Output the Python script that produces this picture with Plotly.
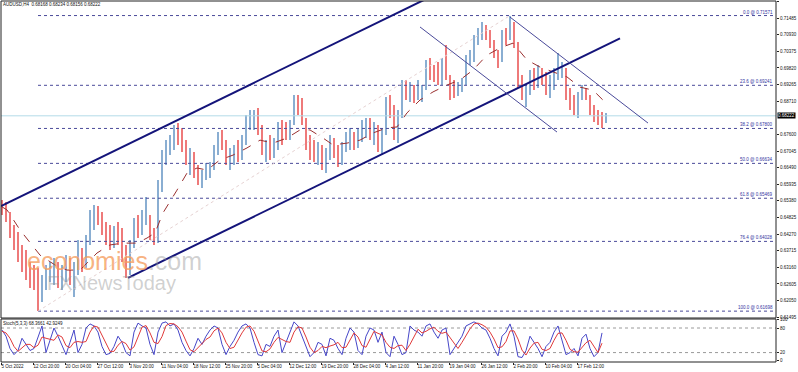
import plotly.graph_objects as go
import numpy as np

# ---------------- data ----------------
# H4 bar index (one unit per bar, grouped 4 bars per sample)
bar_index = [2 + 4 * i for i in range(152)]
highs = [0.6541,0.6534,0.6501,0.6458,0.6434,0.6391,0.6374,0.6334,0.6324,0.6314,
         0.6291,0.6324,0.6334,0.6347,0.6334,0.6324,0.6357,0.6347,0.6334,0.6407,
         0.6381,0.6424,0.6508,0.6524,0.6521,0.6501,0.6468,0.6458,0.6454,0.6468,
         0.6448,0.6391,0.6407,0.6481,0.6491,0.6508,0.6551,0.6491,0.6448,0.6608,
         0.6708,0.6741,0.6758,0.6792,0.6798,0.6782,0.6741,0.6715,0.6701,0.6658,
         0.6641,0.6665,0.6668,0.6725,0.6768,0.6775,0.6741,0.6715,0.6725,0.6741,
         0.6758,0.6825,0.6842,0.6842,0.6848,0.6792,0.6741,0.6758,0.6748,0.6802,
         0.6808,0.6802,0.6808,0.6892,0.6892,0.6882,0.6815,0.6758,0.6741,0.6735,
         0.6725,0.6715,0.6758,0.6748,0.6725,0.6735,0.6768,0.6782,0.6768,0.6782,
         0.6808,0.6815,0.6815,0.6802,0.6792,0.6782,0.6885,0.6892,0.6858,0.6842,
         0.6942,0.6942,0.6935,0.6925,0.6942,0.6925,0.7009,0.7015,0.6992,0.7002,
         0.7015,0.7059,0.6958,0.6942,0.6935,0.6948,0.7025,0.7042,0.7092,0.7115,
         0.7136,0.7126,0.7109,0.7075,0.7042,0.7109,0.7115,0.7157,0.7136,0.7069,
         0.6958,0.6925,0.6975,0.6982,0.6992,0.6982,0.6969,0.6958,0.6982,0.7032,
         0.7002,0.6982,0.6915,0.6892,0.6902,0.6925,0.6915,0.6892,0.6858,0.6842,
         0.6835,0.6832]
lows = [0.6491,0.6468,0.6414,0.6374,0.6334,0.6301,0.6274,0.6247,0.6240,0.6170,
        0.6200,0.6240,0.6267,0.6257,0.6247,0.6240,0.6267,0.6257,0.6217,0.6291,
        0.6301,0.6314,0.6391,0.6441,0.6458,0.6424,0.6391,0.6374,0.6381,0.6391,
        0.6334,0.6281,0.6291,0.6381,0.6414,0.6424,0.6458,0.6407,0.6391,0.6397,
        0.6568,0.6658,0.6691,0.6708,0.6725,0.6701,0.6658,0.6625,0.6615,0.6591,
        0.6581,0.6608,0.6615,0.6641,0.6691,0.6708,0.6658,0.6641,0.6658,0.6668,
        0.6675,0.6725,0.6775,0.6775,0.6758,0.6691,0.6668,0.6675,0.6681,0.6708,
        0.6725,0.6741,0.6741,0.6792,0.6825,0.6792,0.6708,0.6675,0.6668,0.6658,
        0.6641,0.6631,0.6675,0.6681,0.6651,0.6658,0.6701,0.6708,0.6708,0.6715,
        0.6735,0.6748,0.6741,0.6725,0.6701,0.6691,0.6758,0.6815,0.6741,0.6731,
        0.6815,0.6875,0.6868,0.6865,0.6875,0.6868,0.6908,0.6942,0.6935,0.6925,
        0.6925,0.6942,0.6875,0.6882,0.6888,0.6902,0.6925,0.6992,0.7002,0.7059,
        0.7075,0.7075,0.7049,0.7015,0.6982,0.7002,0.7059,0.7075,0.7049,0.6915,
        0.6875,0.6852,0.6892,0.6908,0.6915,0.6925,0.6892,0.6882,0.6908,0.6942,
        0.6948,0.6875,0.6842,0.6825,0.6815,0.6875,0.6875,0.6825,0.6802,0.6792,
        0.6782,0.6798]
closes = [0.6514,0.6481,0.6434,0.6407,0.6347,0.6334,0.6291,0.6274,0.6257,0.6214,
          0.6274,0.6301,0.6307,0.6314,0.6291,0.6307,0.6334,0.6281,0.6307,0.6367,
          0.6324,0.6407,0.6481,0.6501,0.6468,0.6441,0.6424,0.6401,0.6434,0.6414,
          0.6357,0.6314,0.6391,0.6458,0.6448,0.6481,0.6501,0.6424,0.6407,0.6574,
          0.6675,0.6715,0.6741,0.6775,0.6758,0.6725,0.6675,0.6691,0.6641,0.6608,
          0.6625,0.6641,0.6648,0.6708,0.6741,0.6725,0.6675,0.6691,0.6708,0.6691,
          0.6741,0.6808,0.6815,0.6825,0.6775,0.6708,0.6725,0.6691,0.6725,0.6782,
          0.6775,0.6768,0.6792,0.6875,0.6868,0.6808,0.6725,0.6708,0.6701,0.6708,
          0.6675,0.6691,0.6735,0.6708,0.6675,0.6715,0.6741,0.6758,0.6741,0.6758,
          0.6782,0.6792,0.6768,0.6775,0.6715,0.6758,0.6858,0.6842,0.6775,0.6825,
          0.6915,0.6908,0.6915,0.6892,0.6902,0.6915,0.6982,0.6975,0.6958,0.6942,
          0.6992,0.6958,0.6925,0.6902,0.6925,0.6935,0.7009,0.7015,0.7075,0.7102,
          0.7109,0.7102,0.7069,0.7025,0.7009,0.7092,0.7075,0.7126,0.7059,0.6942,
          0.6892,0.6908,0.6958,0.6925,0.6969,0.6942,0.6915,0.6925,0.6958,0.6975,
          0.6975,0.6892,0.6858,0.6842,0.6882,0.6902,0.6892,0.6848,0.6815,0.6808,
          0.6802,0.6822]
first_open = 0.6530

ma_index = [2,7,20,40,55,67,80,97,110,123,137,147,155,163,177,187,197,207,220,233,
            247,260,273,287,300,310,323,333,347,360,373,387,397,407,420,433,447,460,
            473,487,500,513,527,540,553,567,580,593,605]
ma_values = [0.6518,0.6508,0.6441,0.6357,0.6324,0.6307,0.6307,0.6364,0.6391,0.6397,
             0.6397,0.6414,0.6431,0.6498,0.6574,0.6631,0.6648,0.6641,0.6675,0.6691,
             0.6715,0.6741,0.6731,0.6748,0.6775,0.6775,0.6748,0.6725,0.6731,0.6741,
             0.6765,0.6782,0.6785,0.6832,0.6875,0.6902,0.6925,0.6942,0.6975,0.7025,
             0.7049,0.7065,0.7009,0.6985,0.6969,0.6952,0.6918,0.6908,0.6868]

stoch_index = [2 + 4 * i for i in range(151)]
stoch_k = [75,60,30,15,25,55,40,25,30,60,85,20,50,80,60,35,15,45,75,20,40,80,90,85,70,
           35,15,18,35,60,45,20,12,70,92,85,80,40,15,70,92,95,85,90,75,45,25,12,30,55,
           40,60,75,85,80,40,15,35,50,70,85,90,80,45,15,12,40,35,60,75,20,45,70,95,85,
           60,30,10,20,45,40,12,55,50,30,15,55,80,70,25,15,60,80,75,45,70,20,10,60,40,
           15,20,85,75,70,60,85,90,70,55,75,80,15,30,45,60,85,90,95,90,80,75,55,30,12,
           60,70,90,60,10,8,25,60,45,30,10,35,45,70,85,50,15,20,30,12,55,65,30,10,20,68]
stoch_d = [72,68,55,35,23,32,40,40,32,38,58,55,52,50,63,58,37,32,45,47,45,47,70,85,82,
           63,40,23,23,38,47,42,26,34,58,82,86,68,45,42,59,86,91,90,83,70,48,27,22,32,
           42,52,58,73,80,68,45,30,33,52,68,82,85,72,47,24,22,29,45,57,52,47,45,70,83,
           80,58,33,20,25,35,32,36,39,45,32,33,50,68,58,37,33,52,72,67,63,45,33,30,37,
           38,25,40,60,77,68,72,78,82,72,67,70,57,42,30,45,63,78,90,92,88,82,70,53,32,
           34,47,73,73,53,26,14,31,43,45,28,25,30,50,67,68,50,28,22,21,32,44,50,35,20,43]

fib_levels = [0.0, 23.6, 38.2, 50.0, 61.8, 76.4, 100.0]
fib_prices = [0.71571, 0.69241, 0.67800, 0.66634, 0.65469, 0.64028, 0.61698]
fib_anchor_index = [38, 510]
fib_anchor_price = [0.61698, 0.71571]

channel_upper_index = [1, 430]
channel_upper_price = [0.6521, 0.7219]
channel_lower_index = [128, 620]
channel_lower_price = [0.6281, 0.7081]
desc_a_index = [420, 557]
desc_a_price = [0.7119, 0.6768]
desc_b_index = [510, 648]
desc_b_price = [0.7152, 0.6798]

current_price = 0.68222
price_ticks = [0.72040,0.71485,0.70930,0.70375,0.69820,0.69265,0.68710,0.67600,
               0.67045,0.66490,0.65935,0.65380,0.64825,0.64270,0.63715,0.63160,0.62605,
               0.62050,0.61495]
time_ticks = [1 + 32 * k for k in range(19)]
time_labels = ["5 Oct 2022","12 Oct 20:00","20 Oct 04:00","27 Oct 12:00","3 Nov 20:00",
               "11 Nov 04:00","18 Nov 12:00","25 Nov 20:00","5 Dec 04:00","12 Dec 12:00",
               "19 Dec 20:00","28 Dec 04:00","4 Jan 12:00","11 Jan 20:00","19 Jan 04:00",
               "26 Jan 12:00","2 Feb 20:00","10 Feb 04:00","17 Feb 12:00"]
title_text = "AUDUSD,H4  0.68168 0.68234 0.68156 0.68222"
stoch_text = "Stoch(5,3,3) 68.3661 42.9249"

# ---------------- figure ----------------
FONT = "Liberation Sans"
FS = 4.5
W, H = 798, 372
X_MAX = 776

opens = [first_open] + closes[:-1]
colors = ["#8aaed2" if c >= o else "#ee7a7a" for o, c in zip(opens, closes)]

fig = go.Figure()

fig.add_trace(go.Scatter(x=[1, X_MAX], y=[current_price, current_price], mode="lines",
                         line=dict(color="#b4dbe8", width=1), hoverinfo="skip"))

for lv, pr in zip(fib_levels, fib_prices):
    fig.add_trace(go.Scatter(x=[fib_anchor_index[0], X_MAX], y=[pr, pr], mode="lines",
                             line=dict(color="#4a4a9a", width=1, dash="dot"), hoverinfo="skip"))
fig.add_trace(go.Scatter(x=fib_anchor_index, y=fib_anchor_price, mode="lines",
                         line=dict(color="#e6d2d2", width=1, dash="dot"), hoverinfo="skip"))

hl = [h - l for h, l in zip(highs, lows)]
fig.add_trace(go.Bar(x=bar_index, y=hl, base=lows, width=2.8,
                     marker=dict(color=colors, line=dict(width=0)), hoverinfo="skip"))

fig.add_trace(go.Scatter(x=ma_index, y=ma_values, mode="lines",
                         line=dict(color="#9a3030", width=1, dash="dash"), hoverinfo="skip"))

for xs, ys, w, c in [(channel_upper_index, channel_upper_price, 2, "#14147a"),
                     (channel_lower_index, channel_lower_price, 2, "#14147a"),
                     (desc_a_index, desc_a_price, 1, "#4a4a9a"),
                     (desc_b_index, desc_b_price, 1, "#4a4a9a")]:
    fig.add_trace(go.Scatter(x=xs, y=ys, mode="lines", line=dict(color=c, width=w),
                             hoverinfo="skip"))

fig.add_trace(go.Scatter(x=[1, X_MAX], y=[80, 80], yaxis="y2", mode="lines",
                         line=dict(color="#9a9a9a", width=1, dash="dot"), hoverinfo="skip"))
fig.add_trace(go.Scatter(x=[1, X_MAX], y=[20, 20], yaxis="y2", mode="lines",
                         line=dict(color="#9a9a9a", width=1, dash="dot"), hoverinfo="skip"))
n = min(len(stoch_index), len(stoch_k))
fig.add_trace(go.Scatter(x=stoch_index[:n], y=stoch_k[:n], yaxis="y2", mode="lines",
                         line=dict(color="#4646c8", width=1), hoverinfo="skip"))
m = min(len(stoch_index), len(stoch_d))
fig.add_trace(go.Scatter(x=stoch_index[:m], y=stoch_d[:m], yaxis="y2", mode="lines",
                         line=dict(color="#e03a3a", width=1), hoverinfo="skip"))

top_px, bot_px = 1, 362
ph = bot_px - top_px
main_dom = [(bot_px - 318) / ph, 1]
stoch_dom = [0, (bot_px - 319) / ph]

annotations = []
for lv, pr in zip(fib_levels, fib_prices):
    annotations.append(dict(x=X_MAX - 2, y=pr, xref="x", yref="y", text=f"{lv:.1f} @ {pr:.5f}",
                            showarrow=False, xanchor="right", yanchor="bottom", borderpad=0,
                            font=dict(family=FONT, size=FS, color="#3434a0")))
annotations.append(dict(x=0, y=1, xref="paper", yref="paper", text=title_text,
                        showarrow=False, xanchor="left", yanchor="top", xshift=1, yshift=0,
                        borderpad=0, font=dict(family=FONT, size=FS, color="#111")))
annotations.append(dict(x=0, y=stoch_dom[1], xref="paper", yref="paper", text=stoch_text,
                        showarrow=False, xanchor="left", yanchor="top", xshift=1, yshift=-1,
                        borderpad=0, font=dict(family=FONT, size=FS, color="#111")))
annotations.append(dict(x=1, y=current_price, xref="paper", yref="y", text=f"{current_price:.5f}",
                        showarrow=False, xanchor="left", xshift=1, bgcolor="#000",
                        font=dict(family=FONT, size=FS, color="#fff"), borderpad=0))
annotations.append(dict(x=(25 - 1) / 775, y=(bot_px - 261) / ph, xref="paper", yref="paper",
                        text="<span style='color:rgba(245,158,95,0.8)'>economies</span>"
                             "<span style='color:rgba(150,150,150,0.45)'>.com</span>",
                        showarrow=False, xanchor="left", yanchor="middle",
                        font=dict(family=FONT, size=25)))
annotations.append(dict(x=(45 - 1) / 775, y=(bot_px - 283) / ph, xref="paper", yref="paper",
                        text="FXNewsToday", showarrow=False, xanchor="left", yanchor="middle",
                        font=dict(family=FONT, size=20, color="rgba(150,150,150,0.45)")))

shapes = [
    dict(type="rect", xref="paper", yref="y domain", x0=0, x1=1, y0=0, y1=1,
         line=dict(color="#222", width=1)),
    dict(type="rect", xref="paper", yref="y2 domain", x0=0, x1=1, y0=0, y1=1,
         line=dict(color="#222", width=1)),
]

fig.update_layout(
    width=W, height=H, margin=dict(l=1, r=W - X_MAX, t=top_px, b=H - bot_px, autoexpand=False),
    paper_bgcolor="white", plot_bgcolor="white", showlegend=False,
    bargap=0, annotations=annotations, shapes=shapes,
    xaxis=dict(range=[1, X_MAX], anchor="y2", showgrid=False, zeroline=False,
               tickvals=time_ticks, ticktext=time_labels, ticks="outside", ticklen=2,
               tickangle=0, automargin=False,
               tickcolor="#222", ticklabelposition="outside right",
               tickfont=dict(family=FONT, size=FS, color="#111")),
    yaxis=dict(domain=main_dom, range=[0.61469, 0.72057], side="right", showgrid=False,
               zeroline=False, tickvals=price_ticks, ticktext=[f"{v:.5f}" for v in price_ticks],
               ticks="outside", ticklen=2, tickcolor="#222", automargin=False,
               tickfont=dict(family=FONT, size=FS, color="#111")),
    yaxis2=dict(domain=stoch_dom, range=[-3, 102], side="right", showgrid=False,
                zeroline=False, tickvals=[0, 20, 80, 100], ticktext=["0", "20", "80", "100"],
                ticks="outside", ticklen=2, tickcolor="#222", automargin=False,
                tickfont=dict(family=FONT, size=FS, color="#111")),
)

fig.write_html("out.html", config={"displayModeBar": False},
               post_script="document.body.style.margin='0';document.body.style.overflow='hidden';")
